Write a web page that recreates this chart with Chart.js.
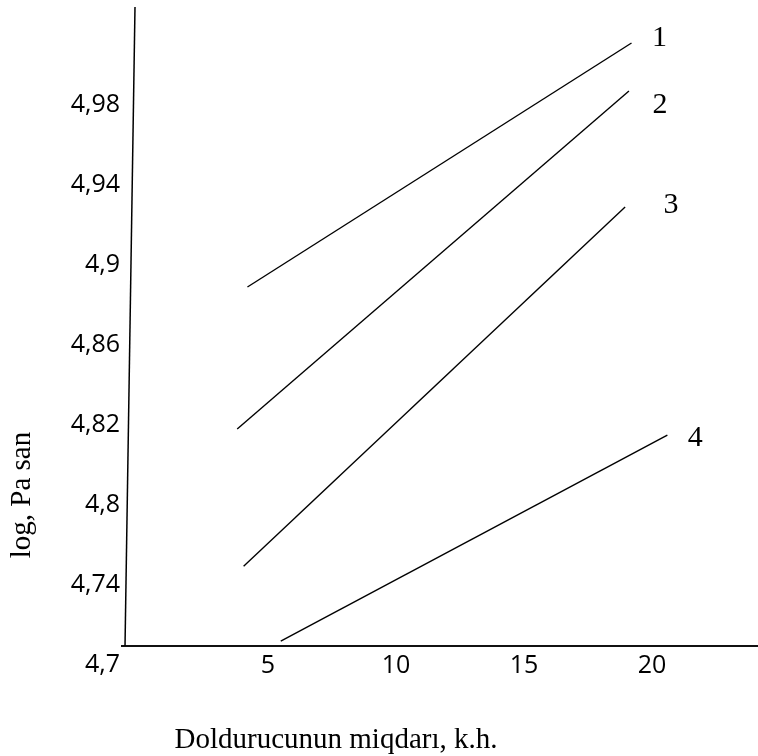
<!DOCTYPE html>
<html>
<head>
<meta charset="utf-8">
<script src="https://cdn.jsdelivr.net/npm/chart.js@4/dist/chart.umd.min.js"></script>
<style>
  html, body { margin: 0; padding: 0; background: #fff; }
  #wrap { width: 758px; height: 756px; }
</style>
</head>
<body>
<div id="wrap"><canvas id="c" width="758" height="756"></canvas></div>
<script>
// Y axis labels (evenly spaced on the axis, as printed)
const yTickLabels = ['4,7', '4,74', '4,8', '4,82', '4,86', '4,9', '4,94', '4,98'];
const yTickValues = [4.70, 4.74, 4.80, 4.82, 4.86, 4.90, 4.94, 4.98];
// X axis ticks
const xTicks = [5, 10, 15, 20];

// Curve names
const seriesNames = ['1', '2', '3', '4'];
// Filler amount at the start / end of each line
const series1X = [4.2, 19.2];
const series2X = [3.8, 19.1];
const series3X = [4.05, 18.95];
const series4X = [5.5, 20.6];
// log viscosity at the start / end of each line
const series1Y = [4.889, 5.011];
const series2Y = [4.819, 4.987];
const series3Y = [4.754, 4.929];
const series4Y = [4.712, 4.8175];

// Position of a value on the evenly spaced y axis (piecewise between printed ticks)
function yPos(v) {
  const t = yTickValues, n = t.length;
  if (v <= t[0]) return (v - t[0]) / (t[1] - t[0]);
  for (let k = 0; k < n - 1; k++) {
    if (v <= t[k + 1]) return k + (v - t[k]) / (t[k + 1] - t[k]);
  }
  return (n - 1) + (v - t[n - 1]) / (t[n - 1] - t[n - 2]);
}

function toPoints(xs, ys) {
  return xs.map((x, i) => ({ x: x, y: yPos(ys[i]) }));
}

const allX = [series1X, series2X, series3X, series4X];
const allY = [series1Y, series2Y, series3Y, series4Y];

const datasets = seriesNames.map((name, i) => ({
  label: name,
  data: toPoints(allX[i], allY[i]),
  showLine: true,
  borderColor: '#000',
  borderWidth: 1.4,
  pointRadius: 0,
  fill: false
}));

// Label offsets (px) from the right end of each line
const nameOffsets = [[28, -5], [31, 14], [46, -2], [28, 3]];

const annotate = {
  id: 'annotate',
  afterDraw(chart) {
    const ctx = chart.ctx;
    const a = chart.chartArea;
    ctx.save();
    // slanted vertical axis
    ctx.strokeStyle = '#000';
    ctx.lineWidth = 1.5;
    ctx.beginPath();
    ctx.moveTo(a.left + 3, a.bottom + 0.5);
    ctx.lineTo(a.left + 13, a.top);
    ctx.stroke();

    // curve numbers
    ctx.fillStyle = '#000';
    ctx.font = '30px "Liberation Serif", "Times New Roman", serif';
    ctx.textAlign = 'center';
    ctx.textBaseline = 'middle';
    chart.data.datasets.forEach((ds, i) => {
      const pts = chart.getDatasetMeta(i).data;
      const end = pts[pts.length - 1];
      ctx.fillText(ds.label, end.x + nameOffsets[i][0], end.y + nameOffsets[i][1]);
    });

    // axis titles
    ctx.font = '29px "Liberation Serif", "Times New Roman", serif';
    ctx.textBaseline = 'alphabetic';
    ctx.fillText('Doldurucunun miqdarı, k.h.', 336, 748);
    ctx.translate(30, 495);
    ctx.rotate(-Math.PI / 2);
    ctx.fillText('log, Pa san', 0, 0);
    ctx.restore();
  }
};

const tickFont = { family: '"Open Sans", "Noto Sans", sans-serif', size: 25 };

new Chart(document.getElementById('c'), {
  type: 'scatter',
  data: { datasets: datasets },
  options: {
    responsive: false,
    animation: false,
    events: [],
    layout: { padding: { top: 7, left: 0, right: 0, bottom: 0 } },
    plugins: { legend: { display: false }, tooltip: { enabled: false }, title: { display: false } },
    scales: {
      x: {
        type: 'linear',
        min: -0.7,
        max: 24.14,
        afterBuildTicks: (s) => { s.ticks = xTicks.map(v => ({ value: v })); },
        afterFit: (s) => { s.height = 110.5; s.paddingLeft = 0; s.paddingRight = 0; },
        grid: { display: false, drawTicks: false },
        border: { display: true, color: '#111', width: 2 },
        ticks: { color: '#000', font: tickFont, padding: 5, autoSkip: false, maxRotation: 0 }
      },
      y: {
        type: 'linear',
        min: 0.244,
        max: 8.225,
        afterBuildTicks: (s) => { s.ticks = yTickLabels.map((_, i) => ({ value: i })); },
        afterFit: (s) => { s.width = 122; s.paddingTop = 0; s.paddingBottom = 0; },
        grid: { display: false, drawTicks: false },
        border: { display: false },
        ticks: {
          color: '#000',
          font: tickFont,
          padding: 2,
          autoSkip: false,
          callback: (v) => yTickLabels[Math.round(v)]
        }
      }
    }
  },
  plugins: [annotate]
});
</script>
</body>
</html>
